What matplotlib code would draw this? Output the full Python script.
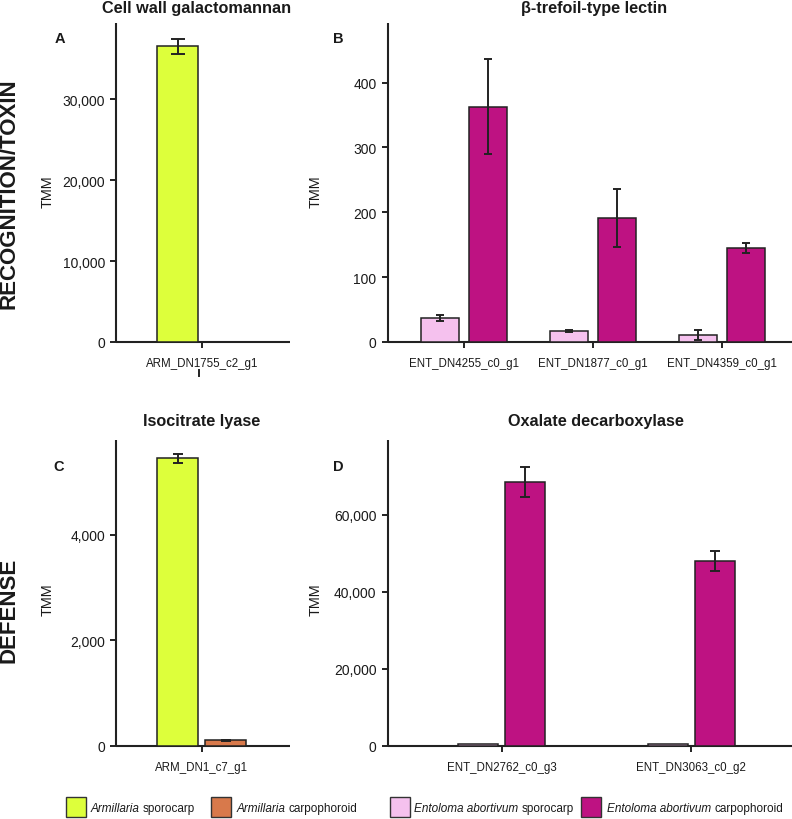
import matplotlib
matplotlib.use("Agg")
import matplotlib.pyplot as plt
from matplotlib.patches import Rectangle
from matplotlib.lines import Line2D
from matplotlib.ticker import FuncFormatter
import numpy as np

plt.rcParams['font.family'] = ['Liberation Sans', 'DejaVu Sans']

# ---------------- data ----------------
genes_A = ['ARM_DN1755_c2_g1']
arm_spor_A = [36500]
arm_spor_A_err = [950]
arm_carp_A = [0]
arm_carp_A_err = [0]

genes_B = ['ENT_DN4255_c0_g1', 'ENT_DN1877_c0_g1', 'ENT_DN4359_c0_g1']
ent_spor_B = [37, 16.5, 11]
ent_spor_B_err = [4.5, 1.5, 8]
ent_carp_B = [363, 191, 144.5]
ent_carp_B_err = [73, 45, 8]

genes_C = ['ARM_DN1_c7_g1']
arm_spor_C = [5446]
arm_spor_C_err = [90]
arm_carp_C = [95]
arm_carp_C_err = [10]

genes_D = ['ENT_DN2762_c0_g3', 'ENT_DN3063_c0_g2']
ent_spor_D = [350, 300]
ent_spor_D_err = [0, 0]
ent_carp_D = [68600, 48000]
ent_carp_D_err = [3800, 2600]

titles = ['Cell wall galactomannan', 'β-trefoil-type lectin',
          'Isocitrate lyase', 'Oxalate decarboxylase']
panel_letters = ['A', 'B', 'C', 'D']
row_labels = ['RECOGNITION/TOXIN', 'DEFENSE']
legend_italic = ['Armillaria', 'Armillaria', 'Entoloma abortivum', 'Entoloma abortivum']
legend_plain = ['sporocarp', 'carpophoroid', 'sporocarp', 'carpophoroid']

C_ARM_S = '#DDFF3B'
C_ARM_C = '#D8794B'
C_ENT_S = '#F5C1EE'
C_ENT_C = '#BE1282'
legend_colors = [C_ARM_S, C_ARM_C, C_ENT_S, C_ENT_C]
EDGE = '#222222'
TXT = '#1a1a1a'

W, H = 792, 820
fig = plt.figure(figsize=(W / 100, H / 100), dpi=100)


def rect(l, t, r, b):
    return [l / W, 1 - b / H, (r - l) / W, (b - t) / H]


def px(x, y):
    return x / W, 1 - y / H


def panel(ax, genes, s_vals, s_err, c_vals, c_err, s_col, c_col,
          width, offset, xlim, ylim, yticks, capsize):
    x = np.arange(len(genes))
    ax.bar(x - offset, s_vals, width, color=s_col, edgecolor=EDGE, linewidth=1.1, zorder=3)
    ax.bar(x + offset, c_vals, width, color=c_col, edgecolor=EDGE, linewidth=1.1, zorder=3)
    for xs, v, e in zip(x - offset, s_vals, s_err):
        if e > 0:
            ax.errorbar(xs, v, yerr=e, fmt='none', ecolor=EDGE, elinewidth=1.4,
                        capsize=capsize, capthick=1.4, zorder=4)
    for xs, v, e in zip(x + offset, c_vals, c_err):
        if e > 0:
            ax.errorbar(xs, v, yerr=e, fmt='none', ecolor=EDGE, elinewidth=1.4,
                        capsize=capsize, capthick=1.4, zorder=4)
    ax.set_xlim(*xlim)
    ax.set_ylim(*ylim)
    ax.set_xticks(x)
    ax.set_xticklabels(genes, fontsize=8.3, color=TXT)
    ax.set_yticks(yticks)
    ax.yaxis.set_major_formatter(FuncFormatter(lambda v, p: f'{v:,.0f}'))
    for s in ['top', 'right']:
        ax.spines[s].set_visible(False)
    for s in ['left', 'bottom']:
        ax.spines[s].set_linewidth(1.5)
        ax.spines[s].set_color(EDGE)
        ax.spines[s].set_capstyle('butt')
    ax.tick_params(axis='y', direction='out', length=4.5, width=1.4, color=EDGE,
                   labelsize=10, labelcolor=TXT, pad=3.5)
    ax.tick_params(axis='x', direction='out', length=4, width=1.4, color=EDGE,
                   pad=7)
    ax.set_facecolor('none')


axA = fig.add_axes(rect(116, 24, 290, 343))
axB = fig.add_axes(rect(387.7, 24, 792, 343))
axC = fig.add_axes(rect(116, 440.7, 290, 746.5))
axD = fig.add_axes(rect(387.7, 440.7, 792, 746.5))

panel(axA, genes_A, arm_spor_A, arm_spor_A_err, arm_carp_A, arm_carp_A_err,
      C_ARM_S, C_ARM_C, 0.4, 0.236, (-0.836, 0.861), (0, 39400),
      [0, 10000, 20000, 30000], 5.2)
panel(axB, genes_B, ent_spor_B, ent_spor_B_err, ent_carp_B, ent_carp_B_err,
      C_ENT_S, C_ENT_C, 0.295, 0.187, (-0.59, 2.54), (0, 492),
      [0, 100, 200, 300, 400], 3.2)
panel(axC, genes_C, arm_spor_C, arm_spor_C_err, arm_carp_C, arm_carp_C_err,
      C_ARM_S, C_ARM_C, 0.4, 0.236, (-0.836, 0.861), (0, 5800),
      [0, 2000, 4000], 3.5)
panel(axD, genes_D, ent_spor_D, ent_spor_D_err, ent_carp_D, ent_carp_D_err,
      C_ENT_S, C_ENT_C, 0.21, 0.124, (-0.60, 1.53), (0, 79600),
      [0, 20000, 40000, 60000], 3.3)

# titles
title_pos = [(197, 12.7), (594, 12.7), (202, 426), (595.5, 426)]
for t, (x, y) in zip(titles, title_pos):
    fig.text(*px(x, y), t, ha='center', va='baseline', fontsize=11.7,
             fontweight='bold', color=TXT)

# panel letters
letter_pos = [(54.5, 43.3), (332.7, 43.3), (53.5, 471), (332.7, 471)]
for t, (x, y) in zip(panel_letters, letter_pos):
    fig.text(*px(x, y), t, ha='left', va='baseline', fontsize=10.5,
             fontweight='bold', color=TXT)

# y labels
tmm_pos = [(47.5, 191.7), (315.8, 191.7), (47.5, 600), (315.8, 600)]
for (x, y) in tmm_pos:
    fig.text(*px(x, y), 'TMM', ha='center', va='center', rotation=90,
             fontsize=10.4, color=TXT)

# row labels
fig.text(*px(9, 193.5), row_labels[0], ha='center', va='center', rotation=90,
         fontsize=16, fontweight='bold', color=TXT)
fig.text(*px(9, 610), row_labels[1], ha='center', va='center', rotation=90,
         fontsize=16, fontweight='bold', color=TXT)

# small stray mark under panel A label
x0, y0 = px(198.5, 370.5)
x1, y1 = px(198.5, 376.5)
fig.add_artist(Line2D([x0, x1], [y0, y1], color=EDGE, lw=1.4))

# legend (manual, to match spacing of the reference)
fs = 8.5
space_px = 0.278 * fs * 100 / 72
patch_x = [65.7, 210.7, 390, 580.7]
text_x = [90.7, 236.7, 414, 606.7]
fig.canvas.draw()
renderer = fig.canvas.get_renderer()
for c, pxx, tx, it, pl in zip(legend_colors, patch_x, text_x, legend_italic, legend_plain):
    fig.add_artist(Rectangle(px(pxx, 818), 20 / W, 20 / H, transform=fig.transFigure,
                             facecolor=c, edgecolor='#333333', linewidth=1.0))
    t1 = fig.text(*px(tx, 812.5), it, ha='left', va='baseline', fontsize=fs,
                  style='italic', color=TXT)
    bb = t1.get_window_extent(renderer)
    fig.text(*px(bb.x1 + space_px, 812.5), pl, ha='left', va='baseline',
             fontsize=fs, color=TXT)

fig.savefig('out.png', dpi=100)
